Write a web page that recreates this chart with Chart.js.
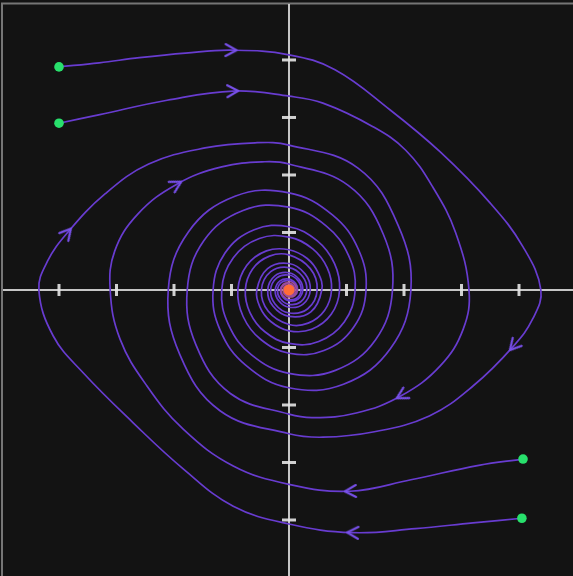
<!DOCTYPE html>
<html>
<head>
<meta charset="utf-8">
<script src="https://cdn.jsdelivr.net/npm/chart.js@4.4.1/dist/chart.umd.min.js"></script>
<style>
  html, body { margin: 0; padding: 0; background: #000; overflow: hidden; }
  #wrap { width: 573px; height: 576px; }
</style>
</head>
<body>
<div id="wrap"><canvas id="c" width="573" height="576"></canvas></div>
<script>
// Phase plane window (x = position, y = velocity)
const xRange = [-5.026, 4.939];
const yRange = [-4.974, 5.043];
const tickValues = [-4, -3, -2, -1, 1, 2, 3, 4];

// Initial conditions and the equilibrium point
const startPoints = [[-4.0, 3.88], [-4.0, 2.9], [4.07, -2.94], [4.05, -3.97]];
const equilibrium = [[0, 0]];

// Trajectory starting top-left (outer)
const trajA = [
  [-4.0,3.88],[-3.3,3.95],[-2.6,4.04],[-1.8,4.12],[-1.0,4.17],[0,4.09],
  [0.8,3.83],[1.76,3.13],[2.63,2.4],[3.5,1.51],[4.07,0.75],[4.38,0],
  [4.24,-0.5],[3.9,-0.98],[3.2,-1.67],[2.44,-2.19],[1.46,-2.47],[0.59,-2.56],[0,-2.5],
  [-1.2,-2.1],[-1.9,-1.12],[-2.1,0],
  [-1.75,1.01],[-0.94,1.63],[0,1.69],
  [0.755,1.307],[1.21,0.7],[1.34,0],
  [1.124,-0.649],[0.608,-1.053],[0,-1.1],
  [-0.495,-0.857],[-0.798,-0.461],[-0.89,0],
  [-0.736,0.425],[-0.392,0.68],[0,0.7],
  [0.316,0.547],[0.51,0.294],[0.57,0],
  [0.38,-0.38],[0,-0.46],
  [-0.28,-0.28],[-0.37,0],
  [-0.245,0.245],[0,0.3],
  [0.18,0.18],[0.24,0],
  [0.157,-0.157],[0,-0.19],
  [-0.115,-0.115],[-0.15,0],
  [-0.099,0.099],[0,0.12],
  [0.074,0.074],[0.1,0],
  [0.066,-0.066],[0,-0.08],
  [-0.047,-0.047],[-0.06,0]
];

// Trajectory starting top-left (inner)
const trajB = [
  [-4.0,2.9],[-3.29,3.05],[-2.12,3.3],[-0.97,3.46],[0,3.37],
  [0.59,3.25],[1.46,2.84],[2.03,2.43],[2.5,1.79],[2.9,0.99],[3.13,0],
  [3.03,-0.68],[2.63,-1.32],[1.95,-1.84],[1.17,-2.14],[0.42,-2.22],[0,-2.16],
  [-1.02,-1.8],[-1.62,-0.95],[-1.77,0],
  [-1.482,0.856],[-0.799,1.383],[0,1.44],
  [0.645,1.116],[1.037,0.599],[1.15,0],
  [0.961,-0.555],[0.517,-0.895],[0,-0.93],
  [-0.42,-0.727],[-0.679,-0.392],[-0.76,0],
  [-0.633,0.366],[-0.34,0.589],[0,0.61],
  [0.371,0.371],[0.49,0],
  [0.326,-0.326],[0,-0.4],
  [-0.243,-0.243],[-0.32,0],
  [-0.212,0.212],[0,0.26],
  [0.159,0.159],[0.21,0],
  [0.139,-0.139],[0,-0.17],
  [-0.105,-0.105],[-0.14,0],
  [-0.091,0.091],[0,0.11],
  [0.068,0.068],[0.09,0],
  [0.058,-0.058],[0,-0.07]
];

// Trajectory starting bottom-right (inner)
const trajC = [
  [4.07,-2.94],[3.3,-3.05],[2.12,-3.3],[1.06,-3.5],[0,-3.38],
  [-0.97,-3.06],[-1.84,-2.42],[-2.47,-1.67],[-2.94,-0.85],[-3.11,0],
  [-3.03,0.68],[-2.63,1.32],[-1.95,1.84],[-1.17,2.14],[-0.42,2.23],[0,2.19],
  [1.03,1.82],[1.64,0.97],[1.8,0],
  [1.503,-0.868],[0.807,-1.398],[0,-1.45],
  [-0.651,-1.128],[-1.05,-0.607],[-1.17,0],
  [-0.968,0.559],[-0.516,0.894],[0,0.92],
  [0.413,0.715],[0.665,0.384],[0.74,0],
  [0.618,-0.357],[0.333,-0.577],[0,-0.6],
  [-0.364,-0.364],[-0.48,0],
  [-0.318,0.318],[0,0.39],
  [0.236,0.236],[0.31,0],
  [0.205,-0.205],[0,-0.25],
  [-0.152,-0.152],[-0.2,0],
  [-0.132,0.132],[0,0.16],
  [0.098,0.098],[0.13,0],
  [0.084,-0.084],[0,-0.1],
  [-0.061,-0.061],[-0.08,0]
];

// Trajectory starting bottom-right (outer)
const trajD = [
  [4.05,-3.97],[3.2,-4.05],[2.2,-4.15],[1.1,-4.22],[0,-4.07],
  [-0.97,-3.76],[-1.84,-3.11],[-2.71,-2.31],[-3.58,-1.44],[-4.1,-0.8],[-4.35,0],
  [-4.2,0.5],[-3.85,1.0],[-3.2,1.67],[-2.44,2.19],[-1.46,2.47],[-0.59,2.56],[0,2.52],
  [1.2,2.12],[1.9,1.12],[2.12,0],
  [1.765,-1.019],[0.947,-1.64],[0,-1.7],
  [-0.754,-1.306],[-1.2,-0.693],[-1.32,0],
  [-1.113,0.643],[-0.605,1.048],[0,1.1],
  [0.493,0.853],[0.792,0.458],[0.88,0],
  [0.734,-0.424],[0.395,-0.684],[0,-0.71],
  [-0.317,-0.548],[-0.507,-0.293],[-0.56,0],
  [-0.373,0.373],[0,0.46],
  [0.28,0.28],[0.37,0],
  [0.245,-0.245],[0,-0.3],
  [-0.182,-0.182],[-0.24,0],
  [-0.157,0.157],[0,0.19],
  [0.115,0.115],[0.15,0],
  [0.099,-0.099],[0,-0.12],
  [-0.074,-0.074],[-0.1,0],
  [-0.066,0.066],[0,0.08]
];

// Which samples of each trajectory carry a direction arrow
const arrowsA = [4, 13];
const arrowsB = [3, 13];
const arrowsC = [3, 12];
const arrowsD = [3, 12];

const LINE = 'rgb(104, 60, 208)';
const ARROW = 'rgb(120, 80, 234)';

// Open chevron used as the arrow head, pointing along +x before rotation
const chevron = (() => {
  const cv = document.createElement('canvas');
  cv.width = 20; cv.height = 20;
  const g = cv.getContext('2d');
  g.strokeStyle = ARROW;
  g.lineWidth = 2;
  g.lineCap = 'round';
  g.lineJoin = 'round';
  g.beginPath();
  g.moveTo(4, 4);
  g.lineTo(15, 10);
  g.lineTo(4, 16);
  g.stroke();
  return cv;
})();

function headingAt(chart, pts, i) {
  const sx = chart.scales.x, sy = chart.scales.y;
  const a = pts[Math.max(i - 1, 0)];
  const b = pts[Math.min(i + 1, pts.length - 1)];
  const dx = sx.getPixelForValue(b[0]) - sx.getPixelForValue(a[0]);
  const dy = sy.getPixelForValue(b[1]) - sy.getPixelForValue(a[1]);
  return Math.atan2(dy, dx) * 180 / Math.PI;
}

function trajectory(points, arrows) {
  return {
    data: points,
    showLine: true,
    tension: 0.4,
    borderColor: LINE,
    borderWidth: 1.7,
    fill: false,
    order: 2,
    pointRadius: c => arrows.includes(c.dataIndex) ? 6 : 0,
    pointHoverRadius: 0,
    pointStyle: c => arrows.includes(c.dataIndex) ? chevron : 'circle',
    pointRotation: c => arrows.includes(c.dataIndex) ? headingAt(c.chart, points, c.dataIndex) : 0
  };
}

// Background, frame edges, axes through the origin and their tick marks
const phaseAxes = {
  id: 'phaseAxes',
  beforeDraw(chart) {
    const { ctx, width, height } = chart;
    ctx.save();
    ctx.fillStyle = '#131313';
    ctx.fillRect(0, 0, width, height);
    ctx.strokeStyle = '#767676';
    ctx.lineWidth = 2;
    ctx.beginPath();
    ctx.moveTo(2, height);
    ctx.lineTo(2, 3.5);
    ctx.lineTo(width, 3.5);
    ctx.stroke();
    ctx.restore();
  },
  beforeDatasetsDraw(chart) {
    const { ctx, chartArea: a, scales: { x, y } } = chart;
    const x0 = x.getPixelForValue(0);
    const y0 = y.getPixelForValue(0);
    ctx.save();
    ctx.strokeStyle = 'rgba(214, 214, 214, 0.92)';
    ctx.lineWidth = 2;
    ctx.beginPath();
    ctx.moveTo(a.left + 3, y0);
    ctx.lineTo(a.right, y0);
    ctx.moveTo(x0, a.top + 4);
    ctx.lineTo(x0, a.bottom);
    ctx.stroke();
    ctx.fillStyle = 'rgba(230, 230, 230, 0.9)';
    for (const v of tickValues) {
      const px = x.getPixelForValue(v);
      ctx.fillRect(px - 1.5, y0 - 6, 3, 12);
      const py = y.getPixelForValue(v);
      ctx.fillRect(x0 - 7, py - 1.5, 14, 3);
    }
    ctx.restore();
  }
};

new Chart(document.getElementById('c'), {
  type: 'scatter',
  data: {
    datasets: [
      { data: equilibrium, pointRadius: 5.5, backgroundColor: '#ff6c38', borderWidth: 0, order: 0 },
      { data: equilibrium, pointRadius: 9, backgroundColor: 'rgba(255, 110, 60, 0.32)', borderWidth: 0, order: 0 },
      { data: startPoints, pointRadius: 4.8, backgroundColor: '#28e06c', borderWidth: 0, order: 1 },
      trajectory(trajA, arrowsA),
      trajectory(trajB, arrowsB),
      trajectory(trajC, arrowsC),
      trajectory(trajD, arrowsD)
    ]
  },
  options: {
    responsive: false,
    maintainAspectRatio: false,
    devicePixelRatio: 1,
    animation: false,
    events: [],
    layout: { padding: 0, autoPadding: false },
    plugins: { legend: { display: false }, tooltip: { enabled: false } },
    scales: {
      x: { type: 'linear', min: xRange[0], max: xRange[1], display: false },
      y: { type: 'linear', min: yRange[0], max: yRange[1], display: false }
    }
  },
  plugins: [phaseAxes]
});
</script>
</body>
</html>
